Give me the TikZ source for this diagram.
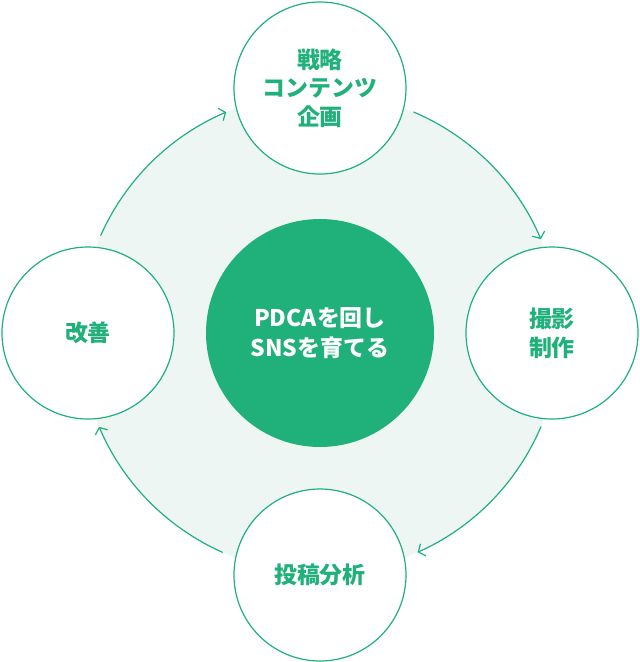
\documentclass[tikz,border=0pt]{standalone}
\usepackage{fontspec}
\setmainfont{Noto Sans CJK JP}
\usetikzlibrary{arrows.meta}
\definecolor{leaf}{RGB}{32,176,122}
\definecolor{mint}{RGB}{238,246,244}
\begin{document}
\begin{tikzpicture}[x=.75pt,y=.75pt,line join=round,line cap=round,
	>={Straight Barb[length=4pt,width=10pt]},
	stage/.style={circle,draw=leaf,line width=.9pt,fill=white,minimum size=129pt,inner sep=0pt,align=center,text=leaf,font=\fontsize{17.2}{21.5}\selectfont\bfseries},
	hub/.style={circle,fill=leaf,minimum size=171pt,inner sep=0pt,align=center,text=white,font=\fontsize{17.2}{22.5}\selectfont\bfseries},
	turn/.style={->,draw=leaf,line width=.9pt}]
	\useasboundingbox (-320,-329) rectangle (320,333);
	\def\R{180pt}
	\fill[mint] (0,0) circle[radius=\R];
	% cycle arrows
	\draw[turn] (0,0) ++(67:\R) arc[start angle=67,end angle=23,radius=\R];
	\draw[turn] (0,0) ++(-23:\R) arc[start angle=-23,end angle=-66,radius=\R];
	\draw[turn] (0,0) ++(-114:\R) arc[start angle=-114,end angle=-157,radius=\R];
	\draw[turn] (0,0) ++(156:\R) arc[start angle=156,end angle=113,radius=\R];
	% stages
	\node[hub] (core) at (0,0) {PDCAを回し\\SNSを育てる};
	\node[stage] (plan) at (0,245) {戦略\\コンテンツ\\企画};
	\node[stage] (shoot) at (232,0) {撮影\\制作};
	\node[stage] (post) at (0,-242) {投稿分析};
	\node[stage] (improve) at (-232,0) {改善};
\end{tikzpicture}
\end{document}
